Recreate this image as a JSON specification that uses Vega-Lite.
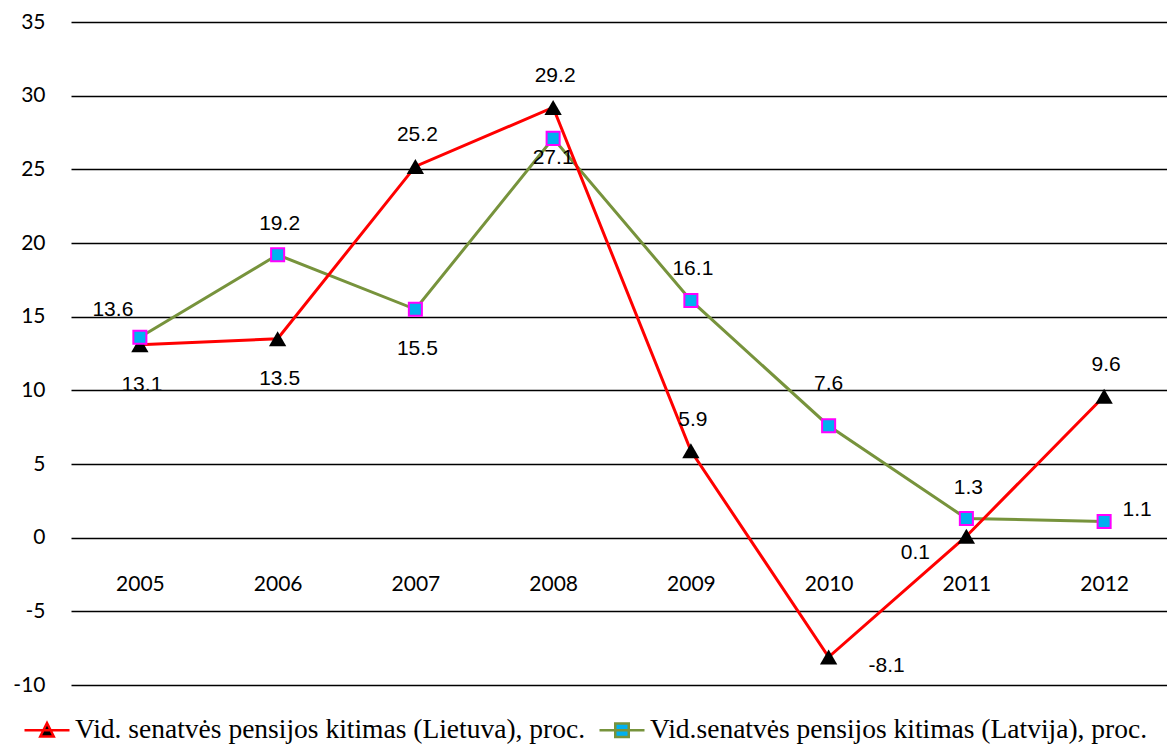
{
  "$schema": "https://vega.github.io/schema/vega-lite/v6.json",
  "width": 1102,
  "height": 663,
  "autosize": {"type": "none"},
  "padding": {"left": 71, "top": 22, "right": 0, "bottom": 71},
  "background": "white",
  "config": {"view": {"stroke": null}},
  "data": {
    "values": [
      {"year": "2005", "series": "Vid.senatvės pensijos kitimas (Latvija), proc.", "value": 13.6},
      {"year": "2006", "series": "Vid.senatvės pensijos kitimas (Latvija), proc.", "value": 19.2},
      {"year": "2007", "series": "Vid.senatvės pensijos kitimas (Latvija), proc.", "value": 15.5},
      {"year": "2008", "series": "Vid.senatvės pensijos kitimas (Latvija), proc.", "value": 27.1},
      {"year": "2009", "series": "Vid.senatvės pensijos kitimas (Latvija), proc.", "value": 16.1},
      {"year": "2010", "series": "Vid.senatvės pensijos kitimas (Latvija), proc.", "value": 7.6},
      {"year": "2011", "series": "Vid.senatvės pensijos kitimas (Latvija), proc.", "value": 1.3},
      {"year": "2012", "series": "Vid.senatvės pensijos kitimas (Latvija), proc.", "value": 1.1},
      {"year": "2005", "series": "Vid. senatvės pensijos kitimas (Lietuva), proc.", "value": 13.1},
      {"year": "2006", "series": "Vid. senatvės pensijos kitimas (Lietuva), proc.", "value": 13.5},
      {"year": "2007", "series": "Vid. senatvės pensijos kitimas (Lietuva), proc.", "value": 25.2},
      {"year": "2008", "series": "Vid. senatvės pensijos kitimas (Lietuva), proc.", "value": 29.2},
      {"year": "2009", "series": "Vid. senatvės pensijos kitimas (Lietuva), proc.", "value": 5.9},
      {"year": "2010", "series": "Vid. senatvės pensijos kitimas (Lietuva), proc.", "value": -8.1},
      {"year": "2011", "series": "Vid. senatvės pensijos kitimas (Lietuva), proc.", "value": 0.1},
      {"year": "2012", "series": "Vid. senatvės pensijos kitimas (Lietuva), proc.", "value": 9.6}
    ]
  },
  "encoding": {
    "x": {
      "field": "year", "type": "ordinal",
      "scale": {"type": "point", "padding": 0.5},
      "axis": {"orient": "bottom", "offset": -148, "domain": false, "ticks": false, "grid": false,
               "labelPadding": 36, "labelAngle": 0, "labelFont": "Lato", "labelFontSize": 21,
               "labelColor": "black", "title": null}
    },
    "y": {
      "field": "value", "type": "quantitative",
      "scale": {"domain": [-10, 35], "nice": false, "zero": false},
      "axis": {"values": [-10, -5, 0, 5, 10, 15, 20, 25, 30, 35], "grid": true, "gridColor": "black",
               "gridWidth": 1.5, "gridOpacity": 1, "domain": false, "ticks": false, "labelFont": "Lato",
               "labelFontSize": 21, "labelColor": "black", "labelPadding": 26, "title": null,
               "labelExpr": "'' + datum.value"}
    }
  },
  "layer": [
    {
      "mark": {"type": "line", "strokeWidth": 3},
      "encoding": {
        "color": {
          "field": "series", "type": "nominal",
          "scale": {
            "domain": ["Vid. senatvės pensijos kitimas (Lietuva), proc.", "Vid.senatvės pensijos kitimas (Latvija), proc."],
            "range": ["#FF0000", "#77933C"]
          },
          "legend": {
            "orient": "none", "legendX": -48, "legendY": 684, "direction": "horizontal",
            "title": null, "padding": 0, "symbolSize": 2025, "symbolStrokeWidth": 3,
            "labelFont": "Liberation Serif", "labelFontSize": 27.5, "labelColor": "black",
            "labelOffset": 4, "columnPadding": 8, "labelLimit": 800,
            "encoding": {
              "symbols": {
                "shape": {"value": {"expr": "indexof(datum.value, 'Lietuva') >= 0 ? 'M-1,0L1,0M-0.3,0.28L0,-0.32L0.3,0.28Z' : 'M-1,0L1,0M-0.3,-0.3H0.3V0.3H-0.3Z'"}},
                "fill": {"value": {"expr": "indexof(datum.value, 'Lietuva') >= 0 ? 'black' : '#00B0F0'"}},
                "fillOpacity": {"value": 1},
                "strokeWidth": {"value": 2.5}
              }
            }
          }
        }
      }
    },
    {
      "transform": [{"filter": "indexof(datum.series, 'Lietuva') >= 0"}],
      "mark": {"type": "point", "shape": "triangle-up", "filled": true, "color": "black", "size": 300, "opacity": 1}
    },
    {
      "transform": [{"filter": "indexof(datum.series, 'Latvija') >= 0"}],
      "mark": {"type": "point", "shape": "square", "filled": true, "fill": "#00B0F0", "stroke": "#FF00FF", "strokeWidth": 2, "size": 170, "opacity": 1}
    },
    {
      "transform": [{"filter": "(indexof(datum.series, 'Lietuva') >= 0 && indexof(['2007','2008','2009','2012'], datum.year) >= 0) || (indexof(datum.series, 'Latvija') >= 0 && indexof(['2006','2009','2011'], datum.year) >= 0)"}],
      "mark": {"type": "text", "font": "Liberation Sans", "fontSize": 21, "color": "black", "dx": 2, "dy": -31},
      "encoding": {"text": {"field": "value", "type": "nominal"}}
    },
    {
      "transform": [{"filter": "indexof(datum.series, 'Latvija') >= 0 && datum.year == '2010'"}],
      "mark": {"type": "text", "font": "Liberation Sans", "fontSize": 21, "color": "black", "dx": 0, "dy": -42},
      "encoding": {"text": {"field": "value", "type": "nominal"}}
    },
    {
      "transform": [{"filter": "(indexof(datum.series, 'Lietuva') >= 0 && indexof(['2005','2006'], datum.year) >= 0) || (indexof(datum.series, 'Latvija') >= 0 && datum.year == '2007')"}],
      "mark": {"type": "text", "font": "Liberation Sans", "fontSize": 21, "color": "black", "dx": 2, "dy": 40},
      "encoding": {"text": {"field": "value", "type": "nominal"}}
    },
    {
      "transform": [{"filter": "indexof(datum.series, 'Latvija') >= 0 && datum.year == '2008'"}],
      "mark": {"type": "text", "font": "Liberation Sans", "fontSize": 21, "color": "black", "dx": 0, "dy": 20},
      "encoding": {"text": {"field": "value", "type": "nominal"}}
    },
    {
      "transform": [{"filter": "indexof(datum.series, 'Lietuva') >= 0 && datum.year == '2010'"}],
      "mark": {"type": "text", "font": "Liberation Sans", "fontSize": 21, "color": "black", "dx": 58, "dy": 9},
      "encoding": {"text": {"field": "value", "type": "nominal"}}
    },
    {
      "transform": [{"filter": "indexof(datum.series, 'Lietuva') >= 0 && datum.year == '2011'"}],
      "mark": {"type": "text", "font": "Liberation Sans", "fontSize": 21, "color": "black", "dx": -51, "dy": 17},
      "encoding": {"text": {"field": "value", "type": "nominal"}}
    },
    {
      "transform": [{"filter": "indexof(datum.series, 'Latvija') >= 0 && datum.year == '2005'"}],
      "mark": {"type": "text", "font": "Liberation Sans", "fontSize": 21, "color": "black", "dx": -27, "dy": -27},
      "encoding": {"text": {"field": "value", "type": "nominal"}}
    },
    {
      "transform": [{"filter": "indexof(datum.series, 'Latvija') >= 0 && datum.year == '2012'"}],
      "mark": {"type": "text", "font": "Liberation Sans", "fontSize": 21, "color": "black", "dx": 33, "dy": -11},
      "encoding": {"text": {"field": "value", "type": "nominal"}}
    }
  ]
}
